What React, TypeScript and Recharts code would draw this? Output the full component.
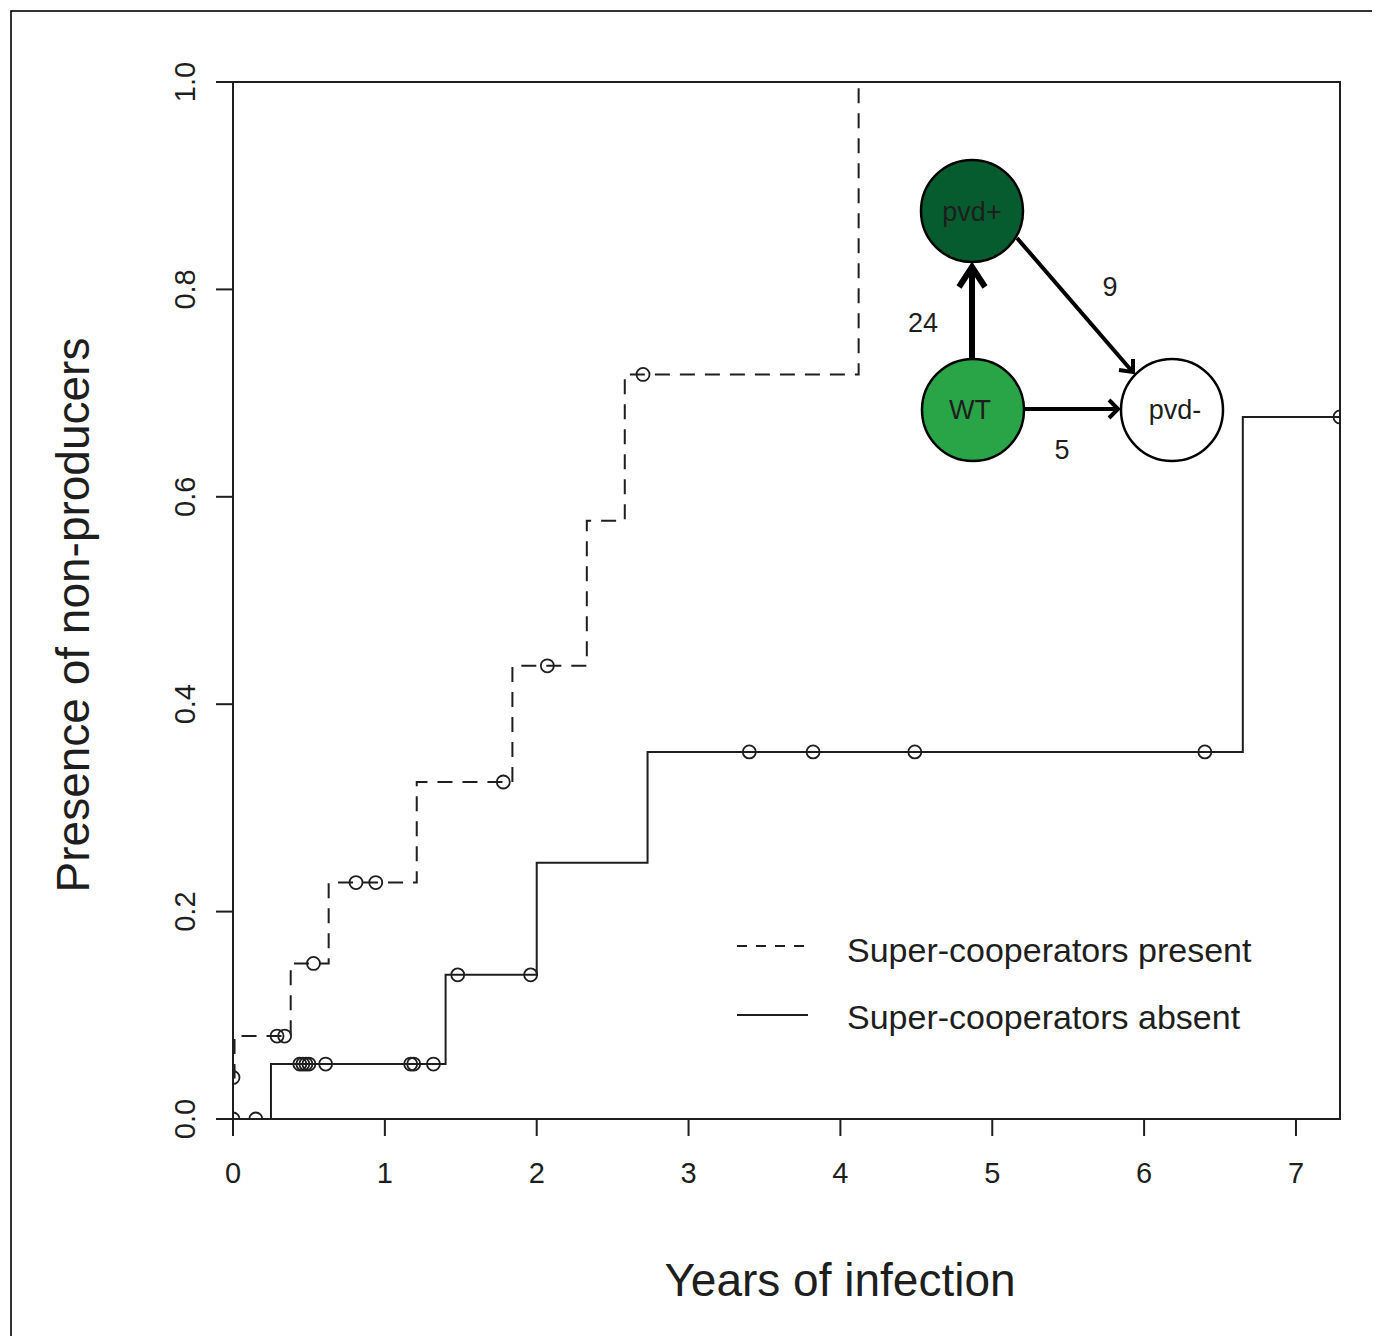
import React from "react";
import {
  ComposedChart,
  Line,
  Scatter,
  XAxis,
  YAxis,
  ReferenceArea,
} from "recharts";

// ---- data ----
const xTicks = [0, 1, 2, 3, 4, 5, 6, 7];
const yTicks = [0, 0.2, 0.4, 0.6, 0.8, 1.0];

// Super-cooperators present (dashed) – step times & cumulative values
const presentTimes = [0, 0.01, 0.38, 0.63, 1.21, 1.84, 2.33, 2.58, 4.12];
const presentValues = [0.04, 0.08, 0.15, 0.228, 0.325, 0.437, 0.577, 0.718, 1.0];
const presentCensorTimes = [0, 0.29, 0.34, 0.53, 0.81, 0.94, 1.78, 2.07, 2.7];
const presentCensorValues = [0.04, 0.08, 0.08, 0.15, 0.228, 0.228, 0.325, 0.437, 0.718];

// Super-cooperators absent (solid)
const absentTimes = [0, 0.25, 1.4, 2.0, 2.73, 6.65, 7.29];
const absentValues = [0, 0.053, 0.139, 0.247, 0.354, 0.677, 0.677];
const absentCensorTimes = [0, 0.15, 0.44, 0.46, 0.48, 0.5, 0.61, 1.17, 1.19, 1.32, 1.48, 1.96, 3.4, 3.82, 4.49, 6.4, 7.29];
const absentCensorValues = [0, 0, 0.053, 0.053, 0.053, 0.053, 0.053, 0.053, 0.053, 0.053, 0.139, 0.139, 0.354, 0.354, 0.354, 0.354, 0.677];

// inset transition counts
const transitionLabels = ["24", "9", "5"];
const nodeLabels = ["pvd+", "WT", "pvd-"];

const zip = (xs: number[], ys: number[]) => xs.map((x, i) => ({ x, y: ys[i] }));
const presentData = zip(presentTimes, presentValues);
const absentData = zip(absentTimes, absentValues);
const presentCensors = zip(presentCensorTimes, presentCensorValues);
const absentCensors = zip(absentCensorTimes, absentCensorValues);

const FONT = "'Liberation Sans', Arial, Helvetica, sans-serif";
const INK = "#1e1e1e";

const CircleShape = (props: any) => {
  const { cx, cy } = props;
  if (cx == null || cy == null) return null;
  return <circle cx={cx} cy={cy} r={6.5} fill="none" stroke={INK} strokeWidth={1.8} />;
};

const XTick = (props: any) => {
  const { x, payload } = props;
  return (
    <text x={x} y={1175} textAnchor="middle" fontSize={29} fontFamily={FONT} fill={INK}>
      {String(payload.value)}
    </text>
  );
};

const YTick = (props: any) => {
  const { y, payload } = props;
  const tx = 187;
  return (
    <text
      x={tx}
      y={y}
      textAnchor="middle"
      fontSize={29}
      fontFamily={FONT}
      fill={INK}
      transform={`rotate(-90, ${tx}, ${y})`}
    >
      {Number(payload.value).toFixed(1)}
    </text>
  );
};

const Overlay = () => (
  <svg
    width={1372}
    height={1328}
    style={{ position: "absolute", left: 0, top: 0, pointerEvents: "none", overflow: "visible" }}
    fontFamily={FONT}
  >
    {/* outer frame */}
    <rect x={3} y={3} width={1400} height={1400} fill="none" stroke="#000" strokeWidth={1.6} />
    {/* axis titles */}
    <text x={832} y={1288} textAnchor="middle" fontSize={46} fill={INK}>
      Years of infection
    </text>
    <text x={81} y={607} textAnchor="middle" fontSize={46} fill={INK} transform="rotate(-90, 81, 607)">
      Presence of non-producers
    </text>
    {/* legend */}
    <line x1={729} y1={938} x2={800} y2={938} stroke={INK} strokeWidth={2} strokeDasharray="10 9" />
    <text x={839} y={954} fontSize={34} fill={INK}>Super-cooperators present</text>
    <line x1={729} y1={1007} x2={800} y2={1007} stroke={INK} strokeWidth={2} />
    <text x={839} y={1021} fontSize={34} fill={INK}>Super-cooperators absent</text>

    {/* inset diagram */}
    <g stroke="#000" fill="none" strokeLinecap="butt" strokeLinejoin="miter">
      <line x1={964} y1={352} x2={964} y2={259} strokeWidth={6} />
      <polyline points="951,279 964,259 977,279" strokeWidth={6} />
      <line x1={1009} y1={230} x2={1123} y2={362} strokeWidth={4} />
      <polyline points="1111,362 1125,364 1125,351" strokeWidth={4} />
      <line x1={1015} y1={401} x2={1108} y2={401} strokeWidth={4} />
      <polyline points="1101,392 1110,401 1101,410" strokeWidth={4} />
    </g>
    <circle cx={964} cy={203} r={51} fill="#065C2F" stroke="#000" strokeWidth={2.5} />
    <circle cx={965} cy={402} r={51} fill="#29A548" stroke="#000" strokeWidth={2.5} />
    <circle cx={1164} cy={402} r={51} fill="#fff" stroke="#000" strokeWidth={2.5} />
    <text x={964} y={204} textAnchor="middle" dominantBaseline="central" fontSize={27} fill={INK}>{nodeLabels[0]}</text>
    <text x={962} y={402} textAnchor="middle" dominantBaseline="central" fontSize={27} fill={INK}>{nodeLabels[1]}</text>
    <text x={1167} y={402} textAnchor="middle" dominantBaseline="central" fontSize={27} fill={INK}>{nodeLabels[2]}</text>
    <text x={915} y={315} textAnchor="middle" dominantBaseline="central" fontSize={27} fill={INK}>{transitionLabels[0]}</text>
    <text x={1102} y={279} textAnchor="middle" dominantBaseline="central" fontSize={27} fill={INK}>{transitionLabels[1]}</text>
    <text x={1054} y={442} textAnchor="middle" dominantBaseline="central" fontSize={27} fill={INK}>{transitionLabels[2]}</text>
  </svg>
);

export default function App() {
  return (
    <div style={{ position: "relative", width: 1372, height: 1328, background: "#fff" }}>
      <ComposedChart
        width={1372}
        height={1328}
        margin={{ top: 74, right: 40, left: 125, bottom: 137 }}
      >
        <XAxis
          type="number"
          dataKey="x"
          domain={[0, 7.29]}
          ticks={xTicks}
          allowDataOverflow
          tickSize={17}
          height={80}
          axisLine={{ stroke: INK, strokeWidth: 2 }}
          tickLine={{ stroke: INK, strokeWidth: 2 }}
          tick={<XTick />}
          interval={0}
        />
        <YAxis
          type="number"
          dataKey="y"
          domain={[0, 1]}
          ticks={yTicks}
          allowDataOverflow
          tickSize={17}
          width={100}
          axisLine={{ stroke: INK, strokeWidth: 2 }}
          tickLine={{ stroke: INK, strokeWidth: 2 }}
          tick={<YTick />}
          interval={0}
        />
        <ReferenceArea x1={0} x2={7.29} y1={0} y2={1} fill="none" stroke={INK} strokeWidth={2} fillOpacity={0} ifOverflow="visible" />
        <Line
          data={absentData}
          dataKey="y"
          type="stepAfter"
          stroke={INK}
          strokeWidth={2}
          dot={false}
          activeDot={false}
          isAnimationActive={false}
        />
        <Line
          data={presentData}
          dataKey="y"
          type="stepAfter"
          stroke={INK}
          strokeWidth={2}
          strokeDasharray="15 10"
          dot={false}
          activeDot={false}
          isAnimationActive={false}
        />
        <Scatter data={absentCensors} dataKey="y" shape={<CircleShape />} isAnimationActive={false} />
        <Scatter data={presentCensors} dataKey="y" shape={<CircleShape />} isAnimationActive={false} />
      </ComposedChart>
      <Overlay />
    </div>
  );
}
